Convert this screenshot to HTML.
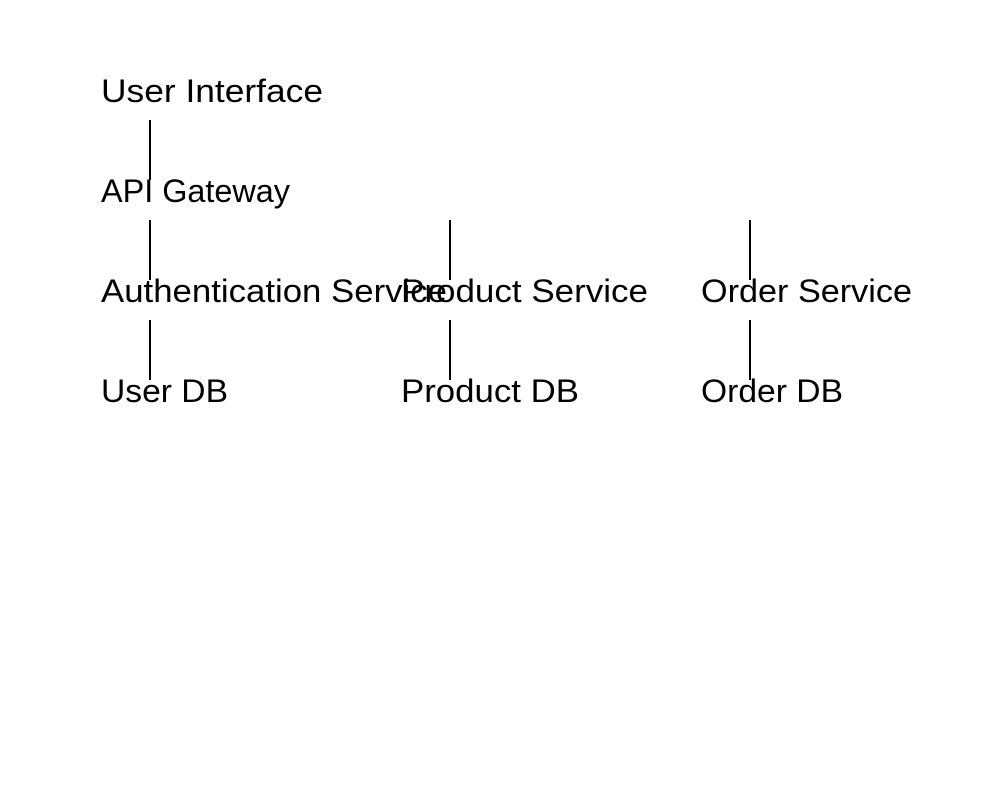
<!DOCTYPE html>
<html><head><meta charset="utf-8"><style>
html,body{margin:0;padding:0;background:#fff;}
svg{display:block;}
text{font-family:"Liberation Sans",sans-serif;font-size:32px;fill:#000;}
</style></head><body>
<svg width="1000" height="800" viewBox="0 0 1000 800" xmlns="http://www.w3.org/2000/svg">
<rect width="1000" height="800" fill="#fff"/>
<g stroke="#000" stroke-width="2">
<line x1="150" y1="120" x2="150" y2="180"/>
<line x1="150" y1="220" x2="150" y2="280"/>
<line x1="450" y1="220" x2="450" y2="280"/>
<line x1="750" y1="220" x2="750" y2="280"/>
<line x1="150" y1="320" x2="150" y2="380"/>
<line x1="450" y1="320" x2="450" y2="380"/>
<line x1="750" y1="320" x2="750" y2="380"/>
</g>
<text x="101" y="102" textLength="222" lengthAdjust="spacingAndGlyphs">User Interface</text>
<text x="101" y="202" textLength="189" lengthAdjust="spacingAndGlyphs">API Gateway</text>
<text x="101" y="302" textLength="346" lengthAdjust="spacingAndGlyphs">Authentication Service</text>
<text x="401" y="302" textLength="247" lengthAdjust="spacingAndGlyphs">Product Service</text>
<text x="701" y="302" textLength="211" lengthAdjust="spacingAndGlyphs">Order Service</text>
<text x="101" y="402" textLength="127" lengthAdjust="spacingAndGlyphs">User DB</text>
<text x="401" y="402" textLength="178" lengthAdjust="spacingAndGlyphs">Product DB</text>
<text x="701" y="402" textLength="142" lengthAdjust="spacingAndGlyphs">Order DB</text>
</svg>
</body></html>
